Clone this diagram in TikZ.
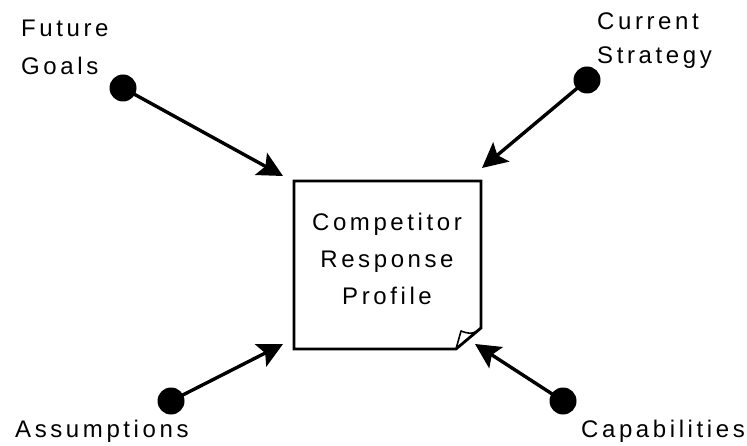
\documentclass[tikz,border=0pt]{standalone}
\usepackage{fontspec}
\setmainfont{Liberation Sans}[LetterSpace=15]
\usetikzlibrary{arrows.meta}
\begin{document}
\begin{tikzpicture}[x=1pt,y=-1pt,
  lbl/.style={font=\fontsize{24}{36}\selectfont, inner sep=0pt, anchor=base west, align=left},
  dot/.style={circle, fill=black, minimum size=27pt, inner sep=0pt},
  conn/.style={line width=3.4pt, -{Stealth[length=25pt,width=25pt,inset=5pt]}, shorten <=-2pt}
]
\useasboundingbox (0,0) rectangle (747,446);
% box with folded corner
\draw[line width=2.8pt, line join=miter] (294,181) -- (481,181) -- (481,328) -- (456,349) -- (294,349) -- cycle;
\draw[line width=1.6pt, line join=round] (456,349) -- (461,331) .. controls (467,333) and (472,336) .. (481,328);
\node[inner sep=0pt, align=center, font=\fontsize{24}{37}\selectfont] (box) at (387,259) {Competitor\\Response\\Profile};
% dots
\node[dot] (fg) at (123,88) {};
\node[dot] (cs) at (587,80) {};
\node[dot] (as) at (171,401) {};
\node[dot] (ca) at (563,401) {};
% tips
\coordinate (tfg) at (283,176);
\coordinate (tcs) at (482,168);
\coordinate (tas) at (283,344);
\coordinate (tca) at (475,344);
\draw[conn] (fg.center) -- (tfg);
\draw[conn] (cs.center) -- (tcs);
\draw[conn] (as.center) -- (tas);
\draw[conn] (ca.center) -- (tca);
% labels
\node[lbl] (lfg) at (21,75) {Future\\[2pt]Goals};
\node[lbl] (lcs) at (597,64) {Current\\[-2pt]Strategy};
\node[lbl] (las) at (15,437) {Assumptions};
\node[lbl] (lca) at (581,437) {Capabilities};
\end{tikzpicture}
\end{document}
